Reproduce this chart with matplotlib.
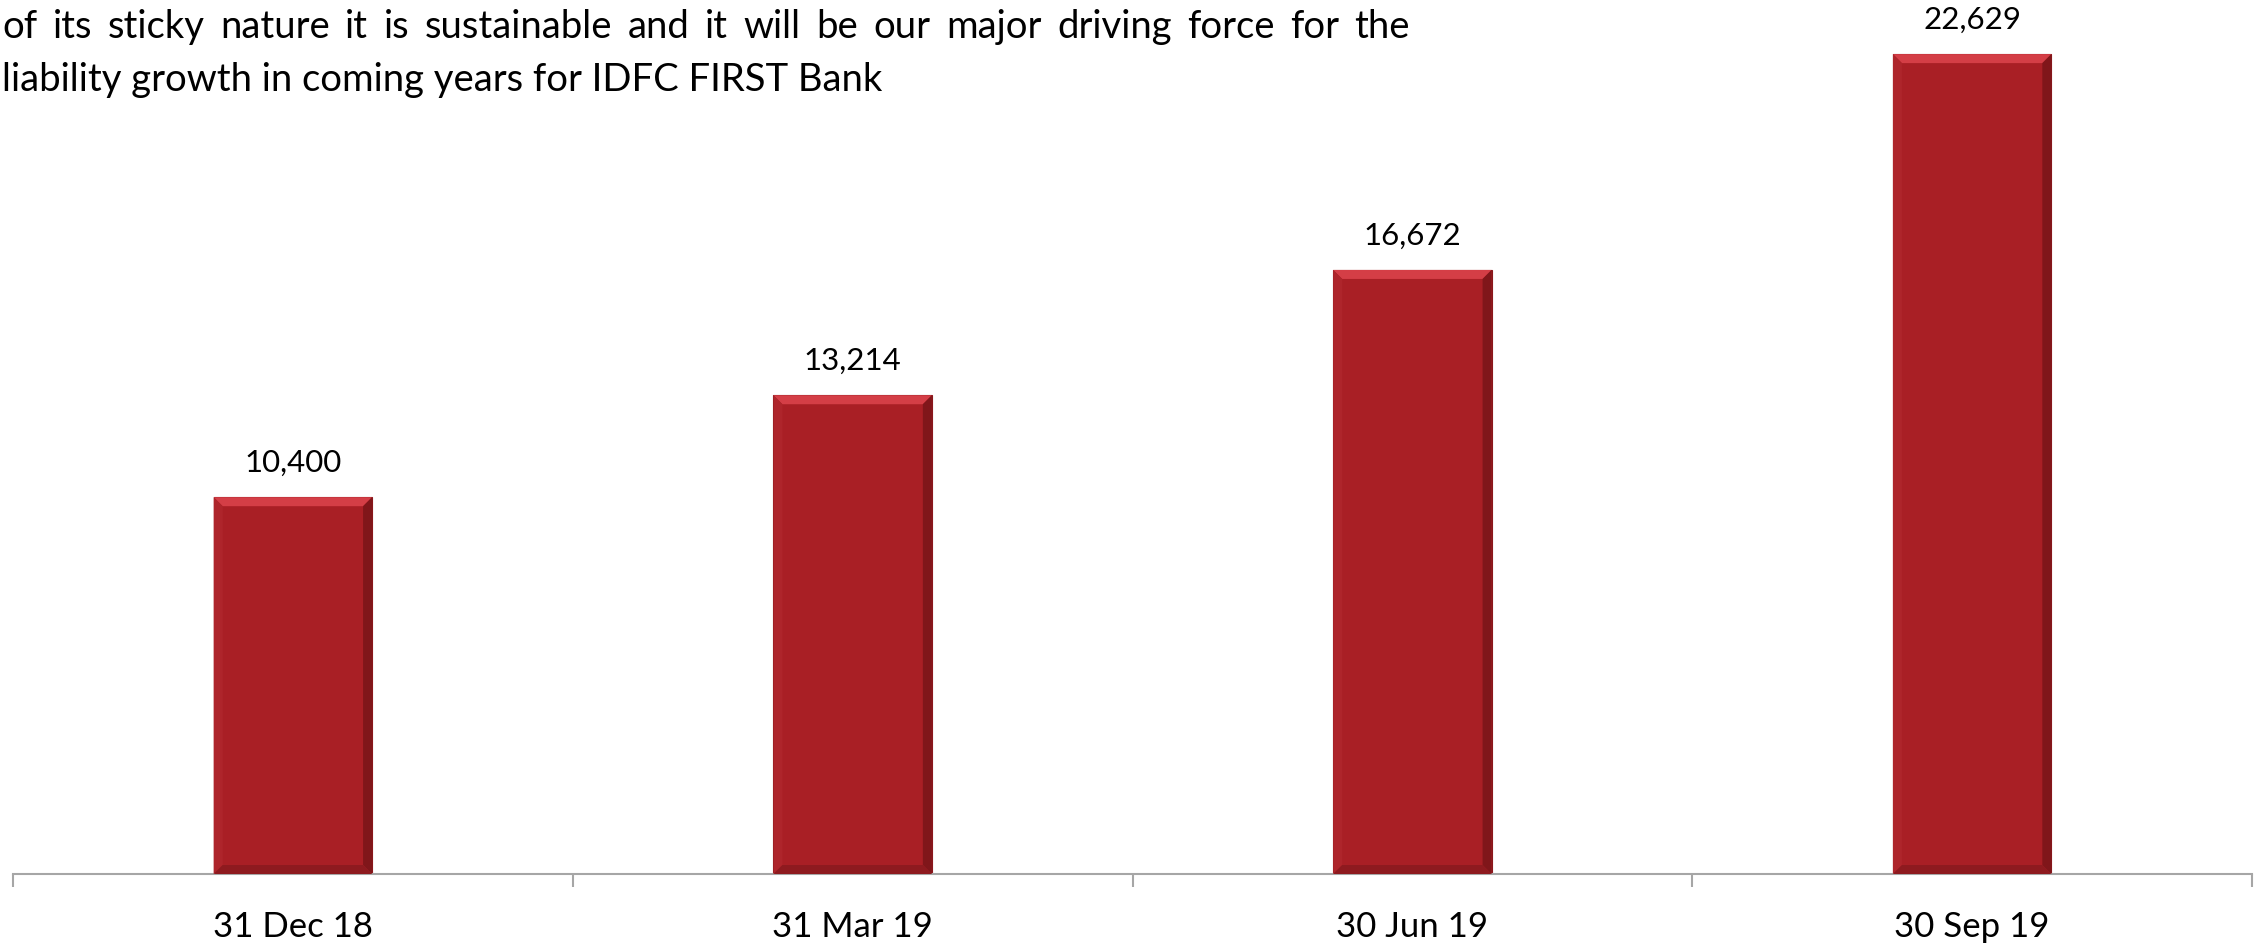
import matplotlib.pyplot as plt
from matplotlib.patches import Polygon

categories = ['31 Dec 18', '31 Mar 19', '30 Jun 19', '30 Sep 19']
values = [10400, 13214, 16672, 22629]
header_lines = [
    'of its sticky nature it is sustainable and it will be our major driving force for the',
    'liability growth in coming years for IDFC FIRST Bank',
]

plt.rcParams['font.family'] = ['Lato', 'DejaVu Sans']

W, H = 2260, 945
fig = plt.figure(figsize=(W / 100, H / 100), dpi=100)
ax = fig.add_axes([13 / W, 70 / H, (2252 - 13) / W, 875 / H])

x = list(range(len(categories)))
bar_w = 0.283
ymax = 24150
ax.bar(x, values, width=bar_w, color='#A91F25', edgecolor='#8a171c', linewidth=0.8, zorder=2)
ax.set_xlim(-0.5, len(categories) - 0.5)
ax.set_ylim(0, ymax)

# bevel look on each bar
bx = 9 / 560
by = 9 * ymax / 875
for xi, v in zip(x, values):
    x0, x1 = xi - bar_w / 2, xi + bar_w / 2
    sides = [
        ([(x0, v), (x1, v), (x1 - bx, v - by), (x0 + bx, v - by)], '#D43E46'),
        ([(x0, 0), (x0, v), (x0 + bx, v - by), (x0 + bx, by)], '#AE252B'),
        ([(x1, 0), (x1, v), (x1 - bx, v - by), (x1 - bx, by)], '#80161A'),
        ([(x0, 0), (x1, 0), (x1 - bx, by), (x0 + bx, by)], '#8E1A1F'),
    ]
    for pts, c in sides:
        ax.add_patch(Polygon(pts, closed=True, color=c, lw=0, zorder=3))
    ax.text(xi, v + 35 * ymax / 875, f'{v:,}', ha='center', va='center', fontsize=22.5)

for s in ['top', 'left', 'right']:
    ax.spines[s].set_visible(False)
ax.spines['bottom'].set_color('#A6A6A6')
ax.spines['bottom'].set_linewidth(1.5)
ax.set_yticks([])
ax.set_xticks([i - 0.5 for i in range(len(categories) + 1)])
ax.set_xticklabels([])
ax.tick_params(axis='x', which='major', direction='out', length=9, width=1.5, color='#A6A6A6')
ax.set_xticks(x, minor=True)
ax.set_xticklabels(categories, minor=True, fontsize=25)
ax.tick_params(axis='x', which='minor', length=0, pad=26)

# header paragraph, first line justified
fig.canvas.draw()
r = fig.canvas.get_renderer()
hfs = 27.5
words = header_lines[0].split()
ts = [fig.text(0, 1 - 38 / H, w, fontsize=hfs, va='baseline') for w in words]
widths = [t.get_window_extent(r).width for t in ts]
left, right = 2, 1410
gap = (right - left - sum(widths)) / (len(words) - 1)
pos = left
for t, w in zip(ts, widths):
    t.set_x(pos / W)
    pos += w + gap
fig.text(left / W, 1 - 91 / H, header_lines[1], fontsize=hfs, va='baseline')

fig.savefig('out.png', dpi=100)
